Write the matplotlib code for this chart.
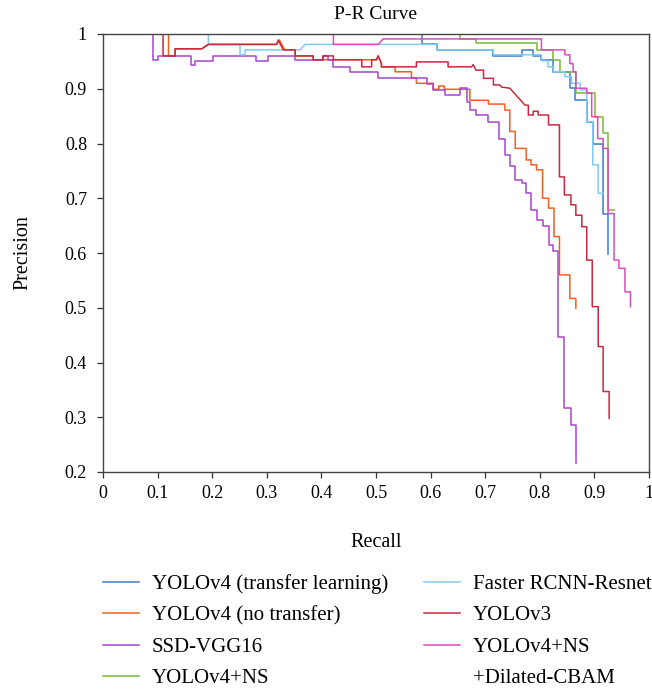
import matplotlib
matplotlib.use("Agg")
import matplotlib.pyplot as plt
from matplotlib.lines import Line2D

# P-R curve vertices (recall, precision)
names = [
    "YOLOv4 (transfer learning)",
    "YOLOv4 (no transfer)",
    "SSD-VGG16",
    "YOLOv4+NS",
    "Faster RCNN-Resnet",
    "YOLOv3",
    "YOLOv4+NS",
]
extra_label = "+Dilated-CBAM"   # second line of the last legend entry
colors = ["#3d7cc9", "#f0601e", "#a844cc", "#7ab83a", "#82cbf0", "#c62a3e", "#d94cbc"]

yolo4_tl_r = [0, 0.584, 0.584, 0.611, 0.611, 0.715, 0.715, 0.767, 0.767, 0.787, 0.787,
              0.803, 0.803, 0.825, 0.825, 0.855, 0.855, 0.864, 0.864, 0.886, 0.886,
              0.897, 0.897, 0.916, 0.916, 0.925, 0.925]
yolo4_tl_p = [1, 1, 0.981, 0.981, 0.971, 0.971, 0.960, 0.960, 0.971, 0.971, 0.960,
              0.960, 0.952, 0.952, 0.931, 0.931, 0.901, 0.901, 0.879, 0.879, 0.840,
              0.840, 0.800, 0.800, 0.672, 0.672, 0.599]

yolo4_nt_r = [0, 0.120, 0.120, 0.132, 0.132, 0.181, 0.193, 0.318, 0.323, 0.333, 0.352,
              0.352, 0.385, 0.385, 0.501, 0.504, 0.510, 0.510, 0.535, 0.535, 0.565,
              0.565, 0.574, 0.574, 0.605, 0.605, 0.615, 0.615, 0.625, 0.625, 0.672,
              0.672, 0.706, 0.706, 0.736, 0.736, 0.745, 0.745, 0.755, 0.755, 0.775,
              0.775, 0.784, 0.784, 0.794, 0.794, 0.805, 0.805, 0.816, 0.816, 0.826,
              0.826, 0.836, 0.836, 0.855, 0.855, 0.866, 0.866]
yolo4_nt_p = [1, 1, 0.960, 0.960, 0.973, 0.973, 0.981, 0.981, 0.989, 0.971, 0.971,
              0.960, 0.960, 0.953, 0.953, 0.960, 0.946, 0.940, 0.940, 0.931, 0.931,
              0.920, 0.920, 0.910, 0.910, 0.899, 0.899, 0.905, 0.905, 0.899, 0.899,
              0.879, 0.879, 0.872, 0.872, 0.861, 0.861, 0.822, 0.822, 0.791, 0.791,
              0.770, 0.770, 0.761, 0.761, 0.752, 0.752, 0.700, 0.700, 0.682, 0.682,
              0.630, 0.630, 0.560, 0.560, 0.517, 0.517, 0.499]

ssd_r = [0, 0.092, 0.092, 0.101, 0.101, 0.162, 0.162, 0.168, 0.168, 0.202, 0.202,
         0.281, 0.281, 0.303, 0.303, 0.352, 0.352, 0.403, 0.403, 0.413, 0.413, 0.422,
         0.422, 0.452, 0.452, 0.504, 0.504, 0.593, 0.593, 0.605, 0.605, 0.626, 0.626,
         0.654, 0.654, 0.666, 0.666, 0.672, 0.672, 0.684, 0.684, 0.706, 0.706, 0.725,
         0.725, 0.736, 0.736, 0.745, 0.745, 0.755, 0.755, 0.767, 0.767, 0.775, 0.775,
         0.784, 0.784, 0.794, 0.794, 0.805, 0.805, 0.816, 0.816, 0.825, 0.825, 0.834,
         0.834, 0.845, 0.845, 0.857, 0.857, 0.866, 0.866]
ssd_p = [1, 1, 0.953, 0.953, 0.960, 0.960, 0.943, 0.943, 0.951, 0.951, 0.960,
         0.960, 0.951, 0.951, 0.960, 0.960, 0.953, 0.953, 0.959, 0.959, 0.953, 0.953,
         0.940, 0.940, 0.930, 0.930, 0.919, 0.919, 0.908, 0.908, 0.898, 0.898, 0.889,
         0.889, 0.901, 0.901, 0.876, 0.876, 0.861, 0.861, 0.852, 0.852, 0.840, 0.840,
         0.809, 0.809, 0.779, 0.779, 0.759, 0.759, 0.733, 0.733, 0.728, 0.728, 0.709,
         0.709, 0.679, 0.679, 0.660, 0.660, 0.649, 0.649, 0.615, 0.615, 0.604, 0.604,
         0.447, 0.447, 0.316, 0.316, 0.286, 0.286, 0.216]

ns_r = [0, 0.654, 0.654, 0.684, 0.684, 0.794, 0.794, 0.825, 0.825, 0.837, 0.837,
        0.866, 0.866, 0.901, 0.901, 0.916, 0.916, 0.925, 0.925, 0.936]
ns_p = [1, 1, 0.991, 0.991, 0.983, 0.983, 0.971, 0.971, 0.952, 0.952, 0.931,
        0.931, 0.892, 0.892, 0.849, 0.849, 0.819, 0.819, 0.679, 0.679]

frcnn_r = [0, 0.193, 0.193, 0.251, 0.251, 0.260, 0.260, 0.361, 0.370, 0.611, 0.611,
           0.715, 0.715, 0.803, 0.803, 0.815, 0.815, 0.825, 0.825, 0.846, 0.846,
           0.858, 0.858, 0.874, 0.874, 0.886, 0.886, 0.897, 0.897, 0.907, 0.907, 0.916]
frcnn_p = [1, 1, 0.981, 0.981, 0.962, 0.962, 0.971, 0.971, 0.981, 0.981, 0.971,
           0.971, 0.962, 0.962, 0.951, 0.951, 0.940, 0.940, 0.931, 0.931, 0.922,
           0.922, 0.910, 0.910, 0.898, 0.898, 0.840, 0.840, 0.761, 0.761, 0.709, 0.709]

yolo3_r = [0, 0.110, 0.110, 0.132, 0.132, 0.181, 0.193, 0.318, 0.321, 0.330, 0.352,
           0.352, 0.385, 0.385, 0.403, 0.403, 0.422, 0.422, 0.474, 0.474, 0.492,
           0.492, 0.501, 0.504, 0.510, 0.510, 0.574, 0.574, 0.632, 0.632, 0.675,
           0.678, 0.683, 0.697, 0.697, 0.715, 0.715, 0.727, 0.730, 0.745, 0.773,
           0.779, 0.779, 0.788, 0.788, 0.797, 0.797, 0.816, 0.816, 0.836, 0.836,
           0.845, 0.845, 0.857, 0.857, 0.866, 0.866, 0.877, 0.877, 0.886, 0.886,
           0.896, 0.896, 0.907, 0.907, 0.916, 0.916, 0.927, 0.927]
yolo3_p = [1, 1, 0.960, 0.960, 0.973, 0.973, 0.981, 0.981, 0.989, 0.971, 0.971,
           0.960, 0.960, 0.953, 0.953, 0.960, 0.960, 0.953, 0.953, 0.940, 0.940,
           0.953, 0.953, 0.960, 0.946, 0.940, 0.940, 0.949, 0.949, 0.940, 0.940,
           0.944, 0.934, 0.934, 0.919, 0.919, 0.907, 0.907, 0.903, 0.901, 0.870,
           0.870, 0.852, 0.852, 0.859, 0.859, 0.852, 0.852, 0.834, 0.834, 0.739,
           0.739, 0.706, 0.706, 0.688, 0.688, 0.669, 0.669, 0.648, 0.648, 0.587,
           0.587, 0.502, 0.502, 0.429, 0.429, 0.347, 0.347, 0.298]

cbam_r = [0, 0.422, 0.422, 0.504, 0.513, 0.803, 0.803, 0.846, 0.846, 0.855, 0.855,
          0.861, 0.861, 0.866, 0.866, 0.886, 0.886, 0.895, 0.895, 0.906, 0.906,
          0.916, 0.916, 0.925, 0.925, 0.936, 0.936, 0.945, 0.945, 0.956, 0.956,
          0.966, 0.966]
cbam_p = [1, 1, 0.981, 0.981, 0.991, 0.991, 0.971, 0.971, 0.962, 0.962, 0.946,
          0.946, 0.931, 0.931, 0.901, 0.901, 0.892, 0.892, 0.849, 0.849, 0.809,
          0.809, 0.791, 0.791, 0.672, 0.672, 0.587, 0.587, 0.572, 0.572, 0.529,
          0.529, 0.502]

recalls = [yolo4_tl_r, yolo4_nt_r, ssd_r, ns_r, frcnn_r, yolo3_r, cbam_r]
precisions = [yolo4_tl_p, yolo4_nt_p, ssd_p, ns_p, frcnn_p, yolo3_p, cbam_p]

x_ticks = [0, 0.1, 0.2, 0.3, 0.4, 0.5, 0.6, 0.7, 0.8, 0.9, 1]
x_tick_labels = ["0", "0.1", "0.2", "0.3", "0.4", "0.5", "0.6", "0.7", "0.8", "0.9", "1"]
y_ticks = [0.2, 0.3, 0.4, 0.5, 0.6, 0.7, 0.8, 0.9, 1]
y_tick_labels = ["0.2", "0.3", "0.4", "0.5", "0.6", "0.7", "0.8", "0.9", "1"]

plt.rcParams["font.family"] = ["Liberation Serif", "DejaVu Serif"]

fig = plt.figure(figsize=(6.52, 6.91), dpi=100)
ax = fig.add_axes([103 / 652, 1 - 472 / 691, 546 / 652, 438 / 691])

handles = []
for r, p, c, n in zip(recalls, precisions, colors, names):
    ln, = ax.plot(r, p, color=c, lw=1.1, label=n)
    handles.append(ln)

ax.set_xlim(0, 1)
ax.set_ylim(0.2, 1)
ax.set_xticks(x_ticks)
ax.set_xticklabels(x_tick_labels)
ax.set_yticks(y_ticks)
ax.set_yticklabels(y_tick_labels)
ax.tick_params(axis="both", direction="out", length=4.5, width=0.9,
               labelsize=13, color="#333333")
ax.tick_params(axis="x", pad=5)
ax.tick_params(axis="y", pad=7)
for s in ax.spines.values():
    s.set_color("#444444")
    s.set_linewidth(1.0)

ax.set_title("P-R Curve", fontsize=14, pad=11)
ax.set_xlabel("Recall", fontsize=14.5, labelpad=22.5)
ax.set_ylabel("Precision", fontsize=14.5, labelpad=23)

# blank handle so the second line of the last label sits on its own row
blank = Line2D([], [], color="none")
labels = names + [extra_label]
fig.legend(handles + [blank], labels, loc="upper left",
           bbox_to_anchor=(103 / 652, 1 - 574 / 691), ncol=2,
           frameon=False, fontsize=15, handlelength=1.75, handletextpad=0.6,
           columnspacing=1.7, labelspacing=0.57, borderpad=0, borderaxespad=0)

fig.savefig("out.png", dpi=100)
